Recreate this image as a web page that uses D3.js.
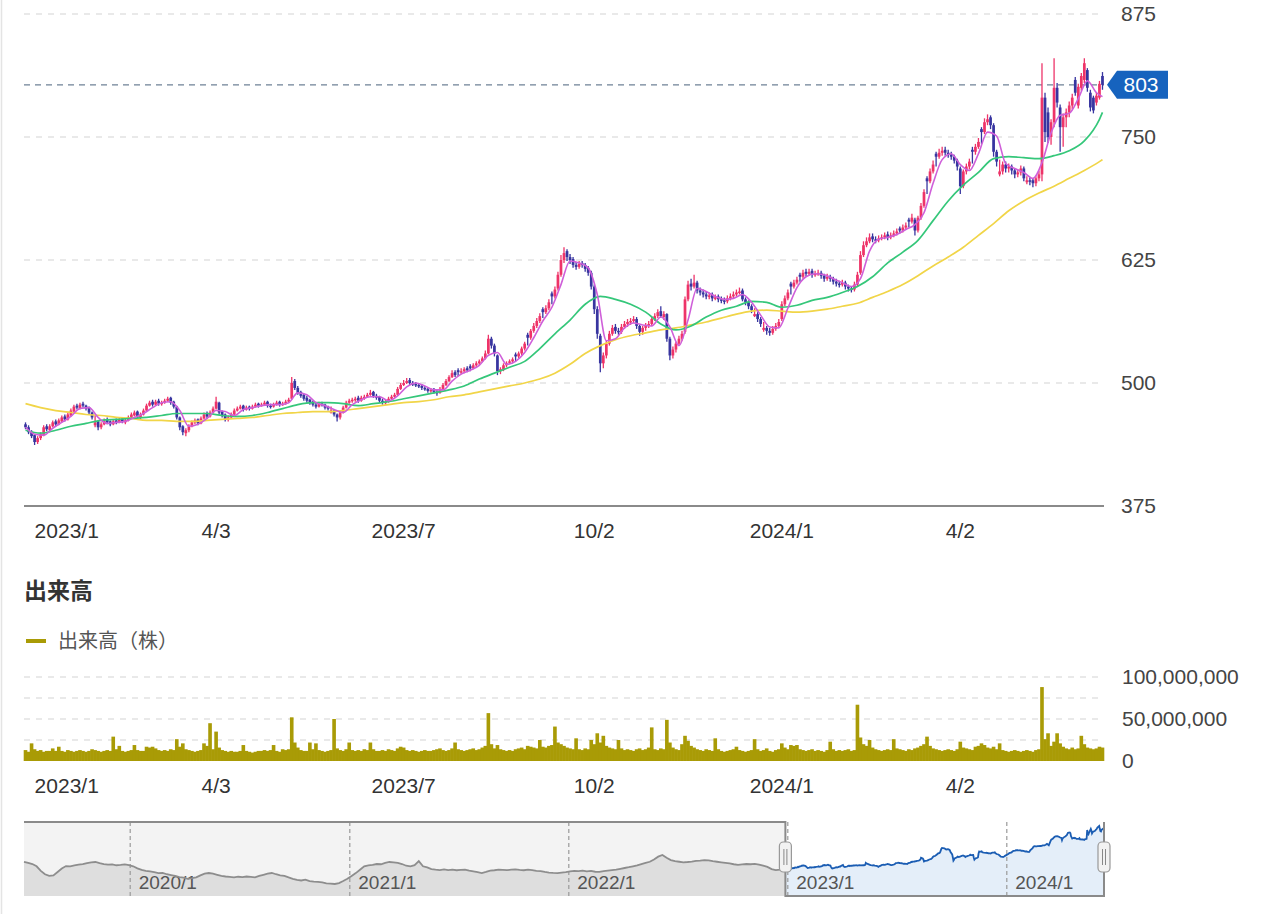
<!DOCTYPE html>
<html><head><meta charset="utf-8">
<script src="https://cdn.jsdelivr.net/npm/d3@7"></script>
<style>
body{margin:0;background:#fff;}
svg{display:block;font-family:"Liberation Sans",Arial,sans-serif;}
</style>
</head><body>
<svg id="chart" width="1279" height="914"></svg>
<script>
// ---------------- DATA ----------------
const startDate = "2022-12-28";
const holidays = ["2023-01-02","2023-01-03","2023-01-09","2023-02-23","2023-03-21","2023-05-03","2023-05-04","2023-05-05","2023-07-17","2023-09-18","2023-10-09","2023-11-03","2023-11-23","2024-01-01","2024-01-02","2024-01-03","2024-01-08","2024-02-12","2024-02-23","2024-03-20","2024-04-29","2024-05-03","2024-05-06"];

const opens = [
458,455,450,447,440,444,447,456,452,456,
461,458,461,466,463,467,471,477,474,479,
477,475,470,457,461,455,458,463,461,458,
462,460,464,460,462,465,467,471,465,468,
472,477,481,478,482,479,480,482,485,481,
476,465,456,449,452,456,460,463,459,464,
469,466,470,474,480,471,468,463,465,468,
472,474,477,473,476,474,476,479,477,478,
481,477,476,478,481,478,479,481,484,502,
495,491,488,485,483,481,478,476,479,478,
476,470,472,468,465,470,475,480,482,483,
485,482,485,486,488,491,487,486,482,480,
481,484,486,488,494,498,500,503,500,499,
498,497,495,494,492,494,491,490,494,498,
502,506,511,513,511,512,515,517,515,518,
520,522,525,530,545,538,528,512,514,518,
521,522,529,527,530,535,549,546,553,558,
563,575,572,576,591,588,596,610,625,634,
628,626,620,618,622,620,617,612,598,575,
548,520,528,540,550,557,553,552,557,560,
562,563,565,558,552,556,558,560,565,568,
573,567,570,545,528,534,540,545,552,585,
601,598,602,594,592,590,588,590,586,588,
585,584,583,586,588,590,592,594,585,582,
578,568,570,565,554,556,553,551,555,558,
565,580,586,601,598,602,610,608,613,611,
614,610,611,612,609,606,608,606,603,601,
600,602,598,596,595,600,612,630,640,644,
649,646,645,647,648,651,648,650,652,657,
655,658,666,664,666,655,668,680,708,705,
715,733,730,734,737,734,732,730,726,718,
700,715,720,737,735,740,758,755,765,770,
762,735,712,715,722,718,720,716,712,714,
718,704,706,706,703,708,712,790,775,750,
765,800,780,760,770,775,782,808,782,800,
808,818,795,790,785,790,812];

const highs = [
460,457,452,448,446,450,457,458,458,462,
463,464,467,468,470,474,478,479,480,481,
478,476,471,467,462,460,464,465,462,463,
464,465,465,464,467,470,472,472,470,474,
479,482,483,483,484,482,484,486,486,482,
477,466,457,454,458,462,464,464,466,470,
471,472,476,486,481,472,469,467,470,474,
476,478,478,477,477,478,480,480,480,482,
482,479,480,482,482,481,483,485,506,504,
497,492,489,487,484,482,480,481,481,479,
477,476,473,469,471,477,482,484,485,486,
487,487,488,490,493,492,489,487,484,483,
486,488,490,496,500,503,505,505,502,501,
500,499,497,496,495,495,493,496,500,504,
508,513,513,515,515,516,517,519,520,522,
524,527,533,549,547,540,529,516,520,522,
524,526,531,532,537,542,551,555,561,566,
571,577,579,585,593,598,613,630,638,636,
631,628,623,624,624,622,619,614,600,578,
550,531,543,553,559,560,556,560,563,565,
566,568,567,559,558,561,563,567,571,575,
578,573,571,547,537,542,548,553,588,604,
606,610,604,597,595,593,592,592,590,590,
588,587,589,591,593,595,597,596,587,584,
580,576,572,567,562,558,556,558,561,565,
583,589,595,603,605,608,612,615,616,616,
616,614,615,614,611,611,610,608,606,604,
605,604,600,598,603,613,634,644,648,652,
652,649,650,651,653,654,653,655,657,659,
661,663,668,672,668,670,683,697,710,718,
726,735,738,740,740,737,735,732,728,720,
717,723,728,740,743,749,760,769,773,772,
764,737,727,725,725,723,722,718,717,721,
720,710,709,708,710,716,825,795,780,768,
830,805,783,774,779,786,794,811,804,815,
830,820,798,792,795,807,816];

const lows = [
453,448,444,437,438,442,446,451,450,455,
456,457,460,461,462,466,470,473,473,475,
472,468,463,455,452,453,457,458,456,457,
458,459,459,458,461,464,466,464,463,467,
471,476,476,477,477,477,479,481,478,474,
463,452,447,446,450,455,458,457,458,463,
464,465,469,473,468,465,461,461,464,467,
471,473,471,472,472,473,475,475,476,477,
475,474,475,477,476,477,478,480,483,493,
488,485,482,480,478,476,474,475,476,473,
472,469,466,461,463,469,474,479,480,481,
480,481,483,485,487,485,483,480,478,478,
480,483,485,487,493,497,499,498,497,496,
495,493,492,490,490,489,487,489,493,497,
501,505,506,507,509,510,511,512,514,516,
518,521,524,529,535,527,508,509,512,516,
519,520,522,525,528,533,538,544,551,556,
561,566,570,574,580,586,594,608,622,624,
621,617,615,616,617,613,609,595,570,545,
511,515,525,538,548,550,549,550,555,557,
559,561,555,548,549,553,556,558,563,566,
566,564,542,523,525,531,538,543,550,583,
594,596,591,589,587,585,585,583,584,582,
581,580,581,584,586,588,590,583,579,575,
571,567,562,557,552,549,548,549,553,556,
563,578,584,590,596,600,603,606,608,609,
607,608,609,606,603,604,603,600,598,597,
598,595,593,592,593,598,610,628,638,642,
643,642,643,645,646,645,646,648,650,652,
653,656,658,662,650,653,666,678,692,703,
713,720,728,731,731,729,727,723,716,692,
698,712,717,723,732,738,743,753,762,758,
730,720,710,712,714,714,712,708,709,711,
705,702,701,699,700,705,705,745,744,742,
760,780,735,740,760,770,778,792,779,797,
805,796,776,774,782,788,798];

const closes = [
455,450,446,440,444,448,455,453,456,460,
458,462,465,463,468,472,476,475,478,477,
474,470,465,460,455,458,462,460,458,461,
460,463,461,462,465,468,470,466,468,472,
477,480,478,481,479,480,482,484,480,476,
465,455,450,452,456,460,462,459,464,468,
466,470,474,481,470,467,463,465,468,472,
474,476,473,475,474,476,478,477,478,480,
477,476,478,480,478,479,481,483,500,495,
490,487,484,482,480,478,476,479,478,475,
474,472,468,465,470,475,480,482,483,484,
482,485,486,488,490,487,485,482,480,481,
484,486,488,494,498,500,502,500,499,498,
497,495,494,492,493,491,490,494,498,502,
506,510,508,511,512,514,513,515,518,520,
522,525,530,545,538,530,512,514,518,520,
522,524,527,530,535,540,546,553,558,563,
568,572,576,582,588,595,610,625,632,628,
625,620,618,621,620,616,612,598,575,550,
520,528,540,550,556,553,552,557,560,562,
563,565,558,552,556,558,560,565,568,572,
568,570,545,528,534,540,545,550,585,600,
598,602,594,592,590,588,589,586,587,585,
584,583,586,588,590,592,593,585,582,578,
574,570,565,560,556,553,551,555,558,562,
580,586,592,598,602,605,608,612,611,613,
610,611,612,609,606,608,606,603,601,600,
602,598,596,595,600,610,630,640,644,648,
646,645,647,648,650,648,650,652,654,655,
658,660,664,668,655,668,680,694,705,715,
722,730,734,736,734,732,730,726,720,700,
715,720,725,735,740,745,755,765,768,762,
735,725,715,722,718,720,716,712,714,718,
708,706,705,703,708,712,790,755,750,765,
800,785,760,770,775,782,790,795,801,812,
825,800,780,777,792,804,803];

// volume, millions of shares
const volumes = [
13,11,21,14,12,13,11,12,12,15,
12,17,12,11,13,12,11,12,13,12,
11,12,14,13,12,11,12,13,12,29,
14,18,12,11,12,13,19,13,12,12,
17,16,17,15,13,12,13,12,14,13,
26,17,21,14,13,12,11,12,13,21,
18,45,14,35,16,13,12,11,12,11,
11,12,19,12,11,10,11,12,12,13,
12,13,19,12,11,14,13,14,52,22,
16,13,12,12,22,14,21,13,12,11,
12,13,50,15,13,12,14,22,13,12,
13,12,14,13,22,14,12,12,13,12,
14,13,12,15,17,16,13,12,13,12,
11,12,13,12,12,13,14,15,13,12,
13,15,22,14,13,12,13,14,15,13,
14,16,18,57,20,15,19,14,13,12,
13,12,14,15,16,14,18,17,16,15,
25,17,16,18,19,41,22,20,18,16,
15,14,27,14,13,15,14,25,20,33,
22,30,18,16,15,14,25,15,13,14,
13,12,14,15,13,14,16,40,14,13,
15,14,49,22,16,14,13,20,30,24,
18,16,14,13,12,14,13,12,27,14,
12,11,12,13,14,17,13,12,11,12,
13,26,14,12,13,15,12,11,13,14,
21,16,14,19,18,19,14,13,12,13,
14,12,13,12,11,13,23,14,12,13,
12,13,14,12,13,67,28,20,18,25,
16,14,13,12,13,14,13,26,15,14,
13,12,14,13,15,16,18,20,29,18,
15,14,13,12,13,14,13,12,14,23,
16,15,14,13,17,18,21,19,16,15,
17,14,21,13,12,11,12,13,12,11,
12,13,12,11,13,14,88,26,33,18,
23,33,21,17,15,14,16,14,15,30,
20,16,15,14,15,17,16];

// moving averages: ma5 every 3rd trading day, ma25/ma75 every 5th (plus last day)
const ma5 = [
455,448,447,454,460,466,474,475,465,459,
460,461,465,469,475,480,481,472,456,458,
464,472,471,467,473,475,477,478,478,480,
490,488,480,477,473,470,478,483,486,486,
482,487,496,500,497,493,493,502,509,513,
518,528,531,519,522,531,546,563,577,600,
624,622,617,590,543,545,556,561,559,558,
567,557,538,564,596,593,588,585,586,590,
582,569,557,556,576,597,608,611,610,606,
602,598,606,634,646,648,651,656,661,673,
703,727,733,722,716,733,755,751,723,718,
714,708,724,754,772,774,789,807,795,791];
const ma25 = [
452,449,452,456,459,462,463,464,465,467,
469,469,469,467,466,467,470,474,478,480,
480,479,477,479,481,484,487,490,493,497,
504,510,516,522,535,550,564,580,588,585,
580,572,560,554,558,567,574,578,583,582,
577,579,584,587,592,598,608,622,633,645,
665,685,701,714,728,730,729,728,731,736,
746,768,775];
const ma75 = [
479,475,472,470,468,467,465,464,462,462,
461,461,462,463,464,465,467,469,470,471,
471,472,474,476,478,480,481,483,486,488,
491,494,497,500,504,510,519,530,538,544,
548,551,554,556,559,562,566,570,573,574,
573,572,573,575,578,581,587,593,600,609,
619,628,638,650,662,675,685,693,700,708,
716,725,727];

// navigator history (weekly closes before the main range)
const historyStart = "2019-07-08";
const historyWeekly = [
508,500,490,470,430,400,385,390,420,450,
472,470,478,485,490,498,505,508,498,490,
484,486,479,482,486,480,470,452,438,430,
425,418,410,412,400,393,385,375,370,360,
365,372,390,405,411,405,395,385,380,376,
372,378,374,380,376,372,385,395,405,411,
400,390,385,372,360,350,345,352,340,335,
332,328,320,318,314,322,340,360,385,410,
440,470,478,482,490,488,500,508,505,500,
490,475,470,480,515,470,460,445,440,437,
442,436,440,435,438,440,432,425,418,410,
420,432,435,440,438,436,440,442,438,435,
440,436,430,428,420,415,412,410,415,418,
425,430,428,432,425,430,422,420,428,432,
436,440,448,455,462,470,478,490,500,510,
530,555,570,545,525,515,510,505,508,512,
518,520,525,522,515,510,505,500,495,488,
482,486,490,488,492,485,475,465,445,437,
440,450];

const lastPrice = 803;
const priceTicks = [375, 500, 625, 750, 875];
const volumeGrid = [25, 50, 75, 100];
const volumeTicks = [0, 50, 100];
const xTickDates = ["2023-01-04","2023-04-03","2023-07-03","2023-10-02","2024-01-04","2024-04-02"];
const xTickLabels = ["2023/1","4/3","2023/7","10/2","2024/1","4/2"];
const navTickDates = ["2020-01-01","2021-01-01","2022-01-01","2023-01-01","2024-01-01"];
const navTickLabels = ["2020/1","2021/1","2022/1","2023/1","2024/1"];
const volumeTitle = "出来高";
const volumeLegend = "出来高（株）";

// ---------------- LAYOUT ----------------
const plotL = 24, plotR = 1104;
const UP = "#ee3469", DOWN = "#3835a0";
const VOL = "#a99b06";
const svg = d3.select("#chart");
const parse = d3.utcParse("%Y-%m-%d"), fmt = d3.utcFormat("%Y-%m-%d");

// trading dates
const hol = new Set(holidays);
const dates = [];
for (let d = parse(startDate); dates.length < closes.length; d = d3.utcDay.offset(d, 1)) {
  const wd = d.getUTCDay();
  if (wd === 0 || wd === 6 || hol.has(fmt(d))) continue;
  dates.push(fmt(d));
}
const N = dates.length;
const candles = dates.map((d, i) => ({date: d, o: opens[i], h: highs[i], l: lows[i], c: closes[i], v: volumes[i]}));

const x = d3.scaleBand().domain(dates).range([plotL, plotR]).paddingInner(0.1).paddingOuter(0.05);
const cx = d => x(d) + x.bandwidth() / 2;
const y = d3.scaleLinear().domain([375, 875]).range([506, 14]);

// left border
svg.append("line").attr("x1", 1.5).attr("x2", 1.5).attr("y1", 0).attr("y2", 914)
  .attr("stroke", "#e4e4e4").attr("stroke-width", 1.5);

// price grid
svg.append("g").selectAll("line").data(priceTicks.filter(t => t !== 375)).join("line")
  .attr("x1", plotL).attr("x2", plotR).attr("y1", d => y(d)).attr("y2", d => y(d))
  .attr("stroke", "#d4d4d4").attr("stroke-width", 1.2).attr("stroke-dasharray", "6,6");
svg.append("line").attr("x1", plotL).attr("x2", plotR).attr("y1", y(375)).attr("y2", y(375))
  .attr("stroke", "#8a8a8a").attr("stroke-width", 2);

// last price line
svg.append("line").attr("x1", plotL).attr("x2", plotR).attr("y1", y(lastPrice)).attr("y2", y(lastPrice))
  .attr("stroke", "#6f8196").attr("stroke-width", 1.2).attr("stroke-dasharray", "6,5");

// y axis labels
const yAx = svg.append("g").attr("transform", `translate(1121,0)`)
  .call(d3.axisRight(y).tickValues(priceTicks).tickSize(0).tickPadding(0));
yAx.select(".domain").remove();
yAx.selectAll("text").attr("font-size", 21).attr("fill", "#444").attr("font-family", "Liberation Sans, Arial, sans-serif");

// candles
const cg = svg.append("g");
cg.selectAll("line").data(candles).join("line")
  .attr("x1", d => cx(d.date)).attr("x2", d => cx(d.date))
  .attr("y1", d => y(d.h)).attr("y2", d => y(d.l))
  .attr("stroke", d => d.c >= d.o ? UP : DOWN).attr("stroke-width", 1.3);
cg.selectAll("rect").data(candles).join("rect")
  .attr("x", d => x(d.date)).attr("width", x.bandwidth())
  .attr("y", d => y(Math.max(d.o, d.c)))
  .attr("height", d => Math.max(1.5, Math.abs(y(d.o) - y(d.c))))
  .attr("fill", d => d.c >= d.o ? UP : DOWN);

// moving averages
function sampleIdx(step) { const r = d3.range(0, N, step); if (r[r.length - 1] !== N - 1) r.push(N - 1); return r; }
function maLine(vals, step, color, w) {
  const idx = sampleIdx(step);
  const pts = vals.map((v, k) => [cx(dates[idx[k]]), y(v)]);
  svg.append("path").attr("d", d3.line().curve(d3.curveMonotoneX)(pts))
    .attr("fill", "none").attr("stroke", color).attr("stroke-width", w);
}
maLine(ma75, 5, "#f1d548", 1.7);
maLine(ma25, 5, "#35c77a", 1.7);
maLine(ma5, 3, "#cf5fd9", 1.6);

// last price tag
const ly = y(lastPrice);
svg.append("path").attr("d", `M1107,${ly} L1117,${ly - 14} L1168,${ly - 14} L1168,${ly + 14} L1117,${ly + 14} Z`)
  .attr("fill", "#1663be");
svg.append("text").attr("x", 1141).attr("y", ly).attr("dy", "0.35em").attr("text-anchor", "middle")
  .attr("font-size", 21).attr("fill", "#fff").text(lastPrice);

// x axis labels (main and volume)
function xLabels(ty) {
  const g = svg.append("g").attr("transform", `translate(0,${ty})`)
    .call(d3.axisBottom(x).tickValues(xTickDates).tickSize(0).tickPadding(0).tickFormat((d, i) => xTickLabels[i]));
  g.select(".domain").remove();
  g.selectAll("text").attr("y", 0).attr("dy", "0.35em").attr("font-size", 21).attr("fill", "#333")
    .attr("font-family", "Liberation Sans, Arial, sans-serif")
    .each(function () {
      const b = this.getBBox();
      const tx = +this.parentNode.getAttribute("transform").match(/translate\(([-\d.]+)/)[1];
      if (tx + b.x < plotL) d3.select(this).attr("text-anchor", "start");
    });
}
xLabels(531);

// volume title and legend
svg.append("text").attr("x", 24).attr("y", 591).attr("dy", "0.35em").attr("font-size", 23).attr("font-weight", "bold")
  .attr("fill", "#333").attr("font-family", "Noto Sans CJK JP, sans-serif").text(volumeTitle);
svg.append("rect").attr("x", 26).attr("y", 639).attr("width", 20).attr("height", 4).attr("fill", VOL);
svg.append("text").attr("x", 58).attr("y", 641).attr("dy", "0.35em").attr("font-size", 20)
  .attr("fill", "#555").attr("font-family", "Noto Sans CJK JP, sans-serif").text(volumeLegend);

// volume chart
const yv = d3.scaleLinear().domain([0, 100]).range([761, 677]);
svg.append("g").selectAll("line").data(volumeGrid).join("line")
  .attr("x1", plotL).attr("x2", plotR).attr("y1", d => yv(d)).attr("y2", d => yv(d))
  .attr("stroke", "#d4d4d4").attr("stroke-width", 1.2).attr("stroke-dasharray", "6,6");
svg.append("g").selectAll("rect").data(candles).join("rect")
  .attr("x", d => cx(d.date) - x.step() / 2 - 0.3).attr("width", x.step() + 0.6)
  .attr("y", d => yv(d.v)).attr("height", d => yv(0) - yv(d.v)).attr("fill", VOL);
const vAx = svg.append("g").attr("transform", `translate(1122,0)`)
  .call(d3.axisRight(yv).tickValues(volumeTicks).tickSize(0).tickPadding(0).tickFormat(v => d3.format(",")(v * 1e6)));
vAx.select(".domain").remove();
vAx.selectAll("text").attr("font-size", 21).attr("fill", "#444").attr("font-family", "Liberation Sans, Arial, sans-serif");
xLabels(786);

// ---------------- NAVIGATOR ----------------
const navTop = 822, navBot = 896;
const hist = historyWeekly.map((v, i) => ({t: d3.utcDay.offset(parse(historyStart), 7 * i), v}));
const main = candles.map(d => ({t: parse(d.date), v: d.c}));
const nx = d3.scaleTime().domain([hist[0].t, main[main.length - 1].t]).range([plotL, plotR]);
const ny = d3.scaleLinear().domain(d3.extent(historyWeekly.concat(closes))).range([884, 826]);
const selX = nx(main[0].t);

svg.append("rect").attr("x", plotL).attr("y", navTop).attr("width", selX - plotL).attr("height", navBot - navTop).attr("fill", "#f3f3f3");
const histPts = hist.concat([main[0]]);
svg.append("path").datum(histPts)
  .attr("d", d3.area().x(d => nx(d.t)).y0(navBot).y1(d => ny(d.v)))
  .attr("fill", "#dedede");
svg.append("path").datum(main)
  .attr("d", d3.area().x(d => nx(d.t)).y0(navBot - 1).y1(d => ny(d.v)))
  .attr("fill", "#e4eef9");

// nav grid
svg.append("g").selectAll("line").data(navTickDates).join("line")
  .attr("x1", d => nx(parse(d))).attr("x2", d => nx(parse(d))).attr("y1", navTop).attr("y2", navBot)
  .attr("stroke", "#9a9a9a").attr("stroke-width", 1.2).attr("stroke-dasharray", "4,3");
const nAx = svg.append("g").attr("transform", `translate(0,882)`)
  .call(d3.axisBottom(nx).tickValues(navTickDates.map(parse)).tickSize(0).tickPadding(0).tickFormat((d, i) => navTickLabels[i]));
nAx.select(".domain").remove();
nAx.selectAll("text").attr("x", 8).attr("y", 0).attr("dy", "0.35em").attr("text-anchor", "start")
  .attr("font-size", 19).attr("fill", "#555").attr("font-family", "Liberation Sans, Arial, sans-serif");

svg.append("path").datum(histPts)
  .attr("d", d3.line().x(d => nx(d.t)).y(d => ny(d.v)))
  .attr("fill", "none").attr("stroke", "#8d8d8d").attr("stroke-width", 1.8);
svg.append("path").datum(main)
  .attr("d", d3.line().x(d => nx(d.t)).y(d => ny(d.v)))
  .attr("fill", "none").attr("stroke", "#1b5db3").attr("stroke-width", 1.8);

// outline
svg.append("path").attr("d", `M${plotL},${navTop} L${selX},${navTop} L${selX},${navBot} L${plotR},${navBot} L${plotR},${navTop}`)
  .attr("fill", "none").attr("stroke", "#8a8a8a").attr("stroke-width", 2);

// handles
[selX, plotR].forEach(hx => {
  const g = svg.append("g");
  g.append("rect").attr("x", hx - 6).attr("y", 842).attr("width", 12).attr("height", 30).attr("rx", 4)
    .attr("fill", "#f2f2f2").attr("stroke", "#999").attr("stroke-width", 1.2);
  [-1.5, 1.5].forEach(o => g.append("line").attr("x1", hx + o).attr("x2", hx + o).attr("y1", 849).attr("y2", 865)
    .attr("stroke", "#888").attr("stroke-width", 1));
});
</script>
</body></html>
